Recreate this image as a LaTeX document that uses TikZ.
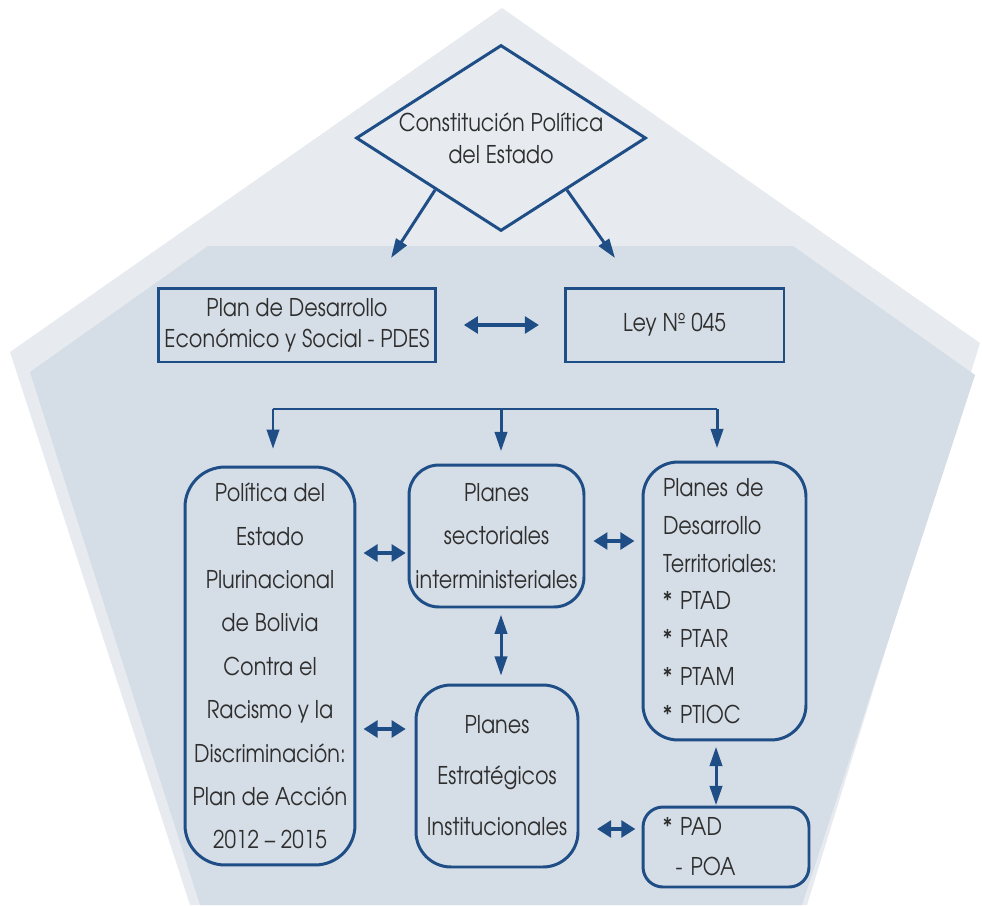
\documentclass[tikz,border=0pt]{standalone}
\usepackage{fontspec}
\setmainfont[FakeStretch=0.85]{TeX Gyre Adventor}
\usepackage{tikz}
\usetikzlibrary{positioning,arrows.meta,shapes.geometric,calc}

\definecolor{navy}{HTML}{1F4E86}
\definecolor{txtgray}{HTML}{2E2E2E}
\definecolor{outerbg}{HTML}{E7EBF0}
\definecolor{innerbg}{HTML}{D5DDE6}

\begin{document}
\begin{tikzpicture}[
    x=0.02cm, y=-0.02cm,
    conn/.style={draw=navy, line width=1.7pt},
    arr/.style={conn, -{Triangle[length=11pt,width=7pt]}},
    darr/.style={conn, {Triangle[length=11pt,width=7pt]}-{Triangle[length=11pt,width=7pt]}},
    sarr/.style={draw=navy, line width=2.2pt, {Triangle[length=8pt,width=9.5pt]}-{Triangle[length=8pt,width=9.5pt]}},
    box/.style={draw=navy, line width=1.7pt, inner sep=0pt, align=center, text=txtgray},
    lsp/.style={font=\fontsize{13.9}{#1}\selectfont}
]
\useasboundingbox (0,0) rectangle (982,905);

% Background pentagons
\fill[outerbg] (502,8) -- (980,343) -- (807,905) -- (190,905) -- (10,352) -- cycle;
\fill[innerbg] (208,246) -- (793,246) -- (975,375) -- (802,905) -- (200,905) -- (30,372) -- cycle;

% === Top: Constitution ===
\node[box, diamond, aspect=1.56, minimum width=5.8cm, minimum height=3.72cm, lsp=18pt]
    (cpe) at (501,138) {Constituci\'on Pol\'itica\\del Estado};

% === Row 1: PDES and Ley ===
\node[box, minimum width=5.56cm, minimum height=1.48cm, lsp=17.6pt]
    (pdes) at (297,325) {Plan de Desarrollo\\Econ\'omico y Social - PDES};
\node[box, minimum width=4.38cm, minimum height=1.48cm, lsp=17.6pt]
    (ley) at (674.5,325) {Ley N\textordmasculine{} 045};

\coordinate (pdesIn) at (391,258);
\coordinate (leyIn) at (615,258);
\draw[arr] ($(cpe.west)!0.55!(cpe.south)$) -- (pdesIn);
\draw[arr] ($(cpe.east)!0.55!(cpe.south)$) -- (leyIn);
\draw[sarr, shorten <=15pt, shorten >=14pt] (pdes) -- (ley);

% === Row 2: plans ===
\node[box, rounded corners=0.8cm, minimum width=3.4cm, minimum height=7.96cm, lsp=24.7pt]
    (pol) at (270,666) {Pol\'itica del\\Estado\\Plurinacional\\de Bolivia\\Contra el\\Racismo y la\\Discriminaci\'on:\\Plan de Acci\'on\\2012 -- 2015};
\node[box, rounded corners=0.6cm, minimum width=3.5cm, minimum height=2.84cm, lsp=24.7pt]
    (sect) at (496.5,536) {Planes\\sectoriales\\interministeriales};
\node[box, rounded corners=0.7cm, minimum width=3.26cm, minimum height=5.56cm,
      text width=2.46cm, align=left, lsp=21.5pt]
    (terr) at (724.5,601) {Planes de\\Desarrollo\\Territoriales:\\{}* PTAD\\{}* PTAR\\{}* PTAM\\{}* PTIOC};
\node[box, rounded corners=0.7cm, minimum width=3.24cm, minimum height=3.64cm, lsp=29pt]
    (pei) at (497,776) {Planes\\Estrat\'egicos\\Institucionales};
\node[box, rounded corners=0.4cm, minimum width=3.32cm, minimum height=1.6cm,
      text width=2.52cm, align=left, lsp=22.7pt]
    (pad) at (726,847) {* PAD\\\hspace*{0.25cm}- POA};

% === Distribution bus ===
\coordinate (busL) at (273,409);
\coordinate (busM) at (501,409);
\coordinate (busR) at (717,409);
\draw[conn] ($(pdes.south east)+(-23,0)$) -- ($(pdes.south east)+(-23,0)$ |- busL);
\draw[conn] ($(ley.south)+(-36.5,0)$) -- ($(ley.south)+(-36.5,0)$ |- busR);
\draw[conn] (busL) -- (busR);
\draw[arr, shorten >=9.5pt] (busL) -- (busL |- pol.north);
\draw[arr, shorten >=7pt] (busM) -- (busM |- sect.north);
\draw[arr, shorten >=7pt] (busR) -- (busR |- terr.north);

% === Links between plans ===
\coordinate (padTop) at (716,807);
\draw[sarr, shorten <=4pt, shorten >=1pt] ($(pol.east |- sect.west)+(0,17)$) -- ($(sect.west)+(0,17)$);
\draw[sarr, shorten <=4.5pt, shorten >=4pt] ($(sect.east)+(0,5)$) -- ($(terr.west |- sect.east)+(0,5)$);
\draw[sarr, shorten <=4pt, shorten >=5pt] ($(pol.east |- pei.west)+(0,-47)$) -- ($(pei.west)+(0,-47)$);
\draw[darr, shorten <=3.5pt, shorten >=4.5pt] (busM |- sect.south) -- (busM |- pei.north);
\draw[darr, shorten <=3pt, shorten >=1pt] (padTop |- terr.south) -- (padTop);
\draw[sarr, shorten <=10pt, shorten >=3.5pt] ($(pei.east |- pad.west)+(0,-18)$) -- ($(pad.west)+(0,-18)$);
\end{tikzpicture}
\end{document}
